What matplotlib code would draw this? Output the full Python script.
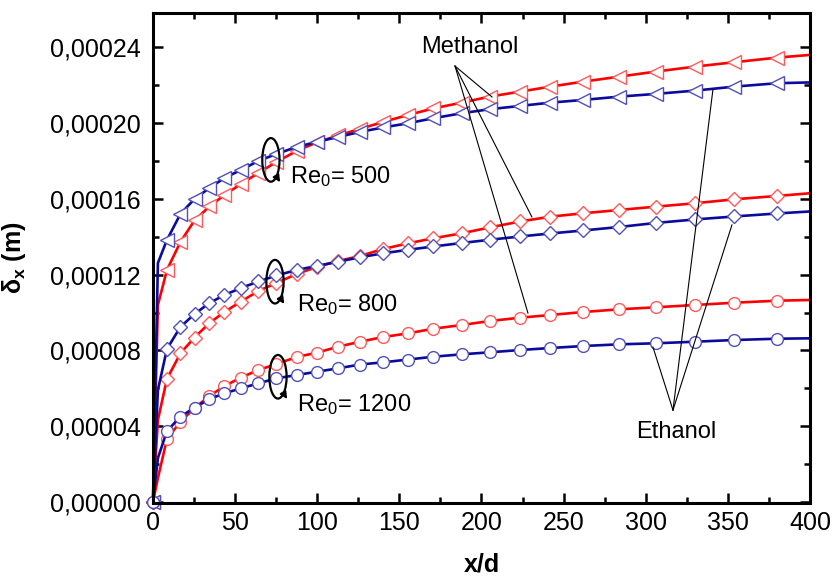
import matplotlib
matplotlib.use('Agg')
import matplotlib.pyplot as plt
from matplotlib.patches import Ellipse
from matplotlib.ticker import MultipleLocator, FuncFormatter

plt.rcParams['font.family'] = ['Liberation Sans', 'DejaVu Sans']
plt.rcParams['mathtext.fontset'] = 'custom'
plt.rcParams['mathtext.rm'] = 'Liberation Sans'
plt.rcParams['mathtext.it'] = 'Liberation Sans:italic'
plt.rcParams['mathtext.bf'] = 'Liberation Sans:bold'

# x/d positions of the curve points
xd = [0, 3, 8.5, 16.7, 25.3, 34.4, 43.5, 53.6, 64.2, 75.2, 87.5, 99.7, 112.8, 126,
      140.2, 155.4, 170.7, 188, 205, 223.5, 242, 262, 284, 306, 330, 354, 380, 400]

# boundary layer thickness, units of 1e-5 m
methanol_500 = [0, 10.396, 12.243, 13.720, 14.855, 15.594, 16.200, 16.781, 17.361, 17.942,
                18.522, 18.971, 19.340, 19.683, 20.053, 20.422, 20.765, 21.071, 21.388,
                21.651, 21.915, 22.179, 22.443, 22.707, 22.971, 23.203, 23.446, 23.588]
ethanol_500 = [0, 12.612, 13.826, 15.198, 15.989, 16.570, 17.097, 17.520, 17.995, 18.364,
               18.733, 18.997, 19.261, 19.525, 19.762, 19.984, 20.248, 20.512, 20.723,
               20.897, 21.071, 21.214, 21.388, 21.530, 21.704, 21.915, 22.095, 22.137]
methanol_800 = [0, 4.327, 6.491, 7.847, 8.681, 9.446, 10.026, 10.580, 11.134, 11.557,
                12.032, 12.401, 12.718, 12.981, 13.351, 13.651, 13.915, 14.179, 14.485,
                14.802, 15.055, 15.235, 15.409, 15.583, 15.762, 15.973, 16.148, 16.290]
ethanol_800 = [0, 5.910, 8.074, 9.235, 9.921, 10.501, 10.923, 11.293, 11.636, 11.952,
               12.243, 12.454, 12.681, 12.913, 13.124, 13.309, 13.483, 13.667, 13.836,
               14.010, 14.169, 14.327, 14.512, 14.723, 14.908, 15.066, 15.224, 15.330]
methanol_1200 = [0, 1.266, 3.325, 4.237, 4.960, 5.594, 6.121, 6.570, 6.966, 7.282,
                 7.652, 7.879, 8.195, 8.459, 8.707, 8.902, 9.145, 9.340, 9.551,
                 9.726, 9.868, 10.026, 10.169, 10.274, 10.396, 10.517, 10.623, 10.660]
ethanol_1200 = [0, 2.322, 3.747, 4.501, 4.987, 5.435, 5.736, 6.000, 6.264, 6.528,
                6.702, 6.876, 7.055, 7.256, 7.372, 7.520, 7.667, 7.794, 7.900,
                8.021, 8.127, 8.232, 8.322, 8.375, 8.459, 8.549, 8.617, 8.638]

mark_idx = [0] + list(range(2, 27))

fig = plt.figure(figsize=(8.35, 5.82), dpi=100)
ax = fig.add_axes([0.1832, 0.1357, 0.7868, 0.842])

red, red_m = '#ff0000', '#ff5a5a'
blue, blue_m = '#0a0a9c', '#5050b8'

series = [
    (methanol_500, red, red_m, '<', 9.5),
    (ethanol_500, blue, blue_m, '<', 9.5),
    (methanol_800, red, red_m, 'D', 7.5),
    (ethanol_800, blue, blue_m, 'D', 7.5),
    (methanol_1200, red, red_m, 'o', 8.5),
    (ethanol_1200, blue, blue_m, 'o', 8.5),
]
for vals, c, mc, mk, ms in series:
    ax.plot(xd, [v * 1e-5 for v in vals], color=c, lw=1.9, marker=mk, ms=ms,
            mfc='white', mec=mc, mew=1.0, markevery=mark_idx, clip_on=False)

ax.set_xlim(0, 400)
ax.set_ylim(-0.5e-6, 2.58e-4)
ax.xaxis.set_major_locator(MultipleLocator(50))
ax.xaxis.set_minor_locator(MultipleLocator(25))
ax.yaxis.set_major_locator(MultipleLocator(4e-5))
ax.yaxis.set_minor_locator(MultipleLocator(2e-5))
ax.yaxis.set_major_formatter(FuncFormatter(lambda v, p: ('%.5f' % abs(v)).replace('.', ',')))
ax.tick_params(which='both', direction='in', top=True, right=True, width=1.8, labelsize=18)
ax.tick_params(which='major', length=7)
ax.tick_params(which='minor', length=4.5)
ax.tick_params(axis='y', pad=9)
ax.tick_params(axis='x', pad=6)
for s in ax.spines.values():
    s.set_linewidth(2.2)

ax.set_xlabel('x/d', fontsize=18, fontweight='bold')
ax.set_ylabel(r'$\mathregular{\delta_x}$ (m)', fontsize=18, fontweight='bold')
ax.xaxis.set_label_coords(0.5, -0.10)
ax.yaxis.set_label_coords(-0.19, 0.5)

# Reynolds number loops
loops = [(71.8, 1.805e-4, 'Re$\\mathregular{_0}$= 500', 83.4, 1.715e-4),
         (74.3, 1.1625e-4, 'Re$\\mathregular{_0}$= 800', 87.7, 1.04e-4),
         (76.1, 6.61e-5, 'Re$\\mathregular{_0}$= 1200', 87.7, 5.12e-5)]
for cx, cy, txt, tx, ty in loops:
    ax.add_patch(Ellipse((cx, cy), 10.5, 2.3e-5, fill=False, ec='black', lw=1.6, zorder=5))
    ax.annotate('', xy=(cx + 6.5, cy - 1.3e-5), xytext=(cx + 2.5, cy - 0.75e-5),
                arrowprops=dict(arrowstyle='-|>', color='black', lw=1.4,
                                mutation_scale=10), zorder=5)
    ax.text(tx, ty, txt, fontsize=17, va='center', ha='left')

# fluid labels
ax.text(193, 2.40e-4, 'Methanol', fontsize=17, ha='center', va='center')
for ex, ey in [(206.4, 2.137e-4), (230.7, 1.504e-4), (228.3, 0.997e-4)]:
    ax.plot([183.9, ex], [2.30e-4, ey], color='black', lw=0.8)

ax.text(318.4, 3.69e-5, 'Ethanol', fontsize=17, ha='center', va='center')
for ex, ey in [(304.4, 8.18e-5), (340.9, 2.174e-4), (352.5, 1.462e-4)]:
    ax.plot([316.6, ex], [4.85e-5, ey], color='black', lw=0.8)

plt.savefig('out.png', dpi=100)
